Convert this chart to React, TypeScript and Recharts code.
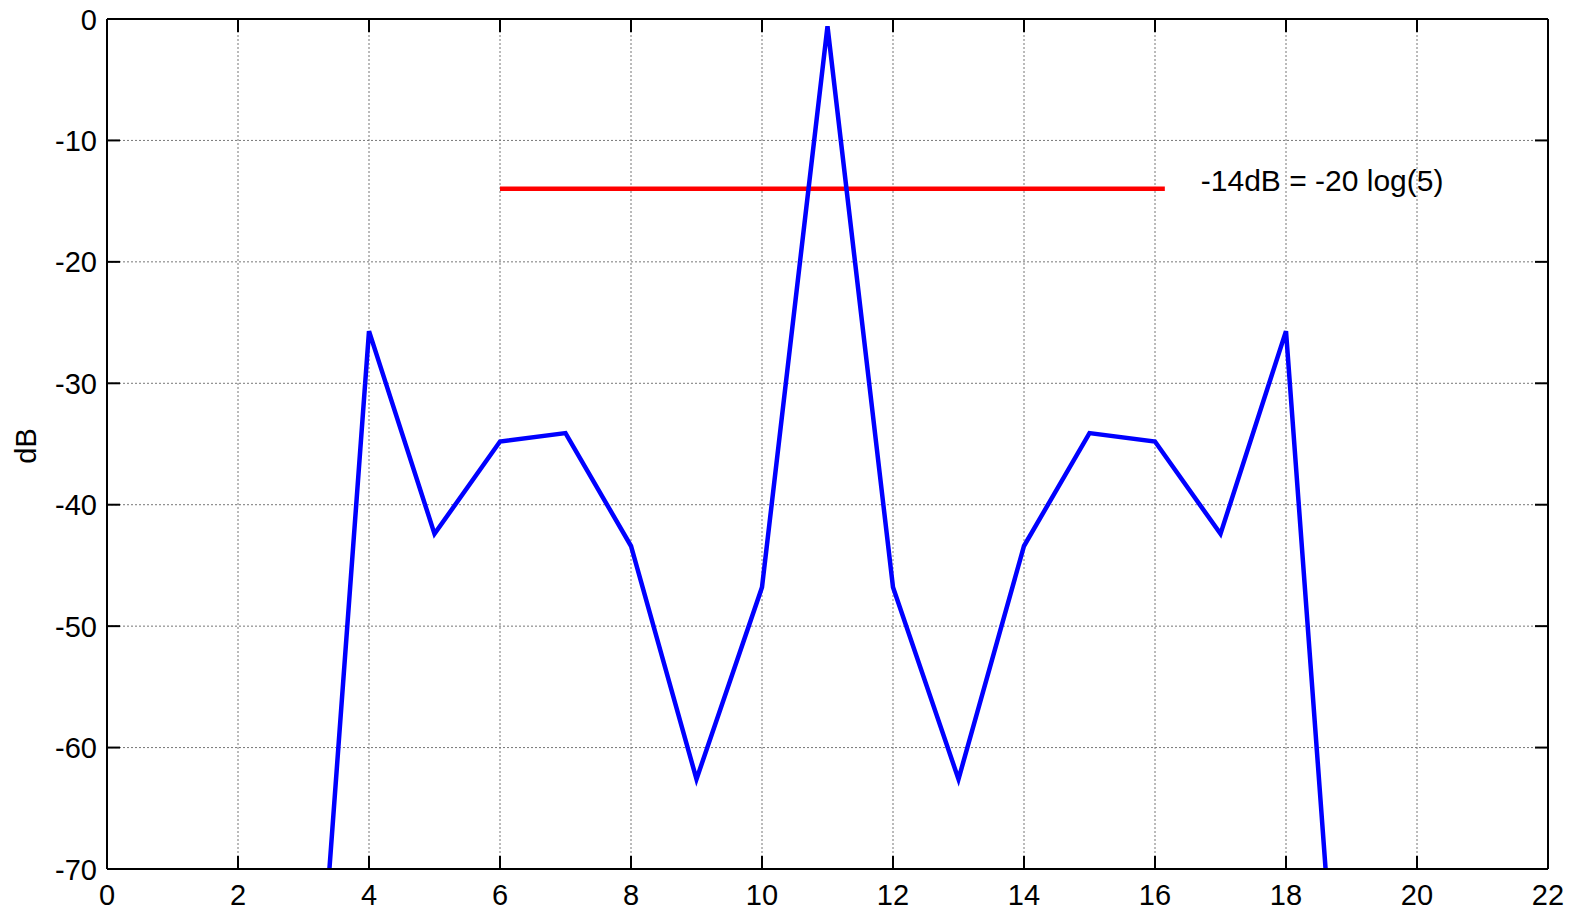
import React from 'react';
import {
  LineChart,
  Line,
  XAxis,
  YAxis,
  CartesianGrid,
  ReferenceLine,
  Label,
} from 'recharts';

// frequency bins and magnitude response (dB)
const bins = [3, 4, 5, 6, 7, 8, 9, 10, 11, 12, 13, 14, 15, 16, 17, 18, 19];
const magnitudeDb = [
  -99, -25.7, -42.4, -34.8, -34.1, -43.4, -62.6, -46.8, -0.6,
  -46.8, -62.6, -43.4, -34.1, -34.8, -42.4, -25.7, -99,
];

const xTicks = [0, 2, 4, 6, 8, 10, 12, 14, 16, 18, 20, 22];
const yTicks = [-70, -60, -50, -40, -30, -20, -10, 0];

// -20 log(5) reference level and its span
const refLevelDb = -13.98;
const refStart = 6;
const refEnd = 16.15;
const refLabel = '-14dB = -20 log(5)';

const data = bins.map((x, i) => ({ x, db: magnitudeDb[i] }));

const FONT = '"Liberation Sans", Arial, Helvetica, sans-serif';
const TICK_LEN = 13;

const BottomTick = (props: any) => {
  const { x, y, payload } = props;
  return (
    <g>
      <line x1={x} y1={y} x2={x} y2={y - TICK_LEN} stroke="#000" strokeWidth={2} />
      <text x={x} y={y + 36} textAnchor="middle" fontSize={29} fontFamily={FONT} fill="#000">
        {payload.value}
      </text>
    </g>
  );
};

const TopTick = (props: any) => {
  const { x, y } = props;
  return <line x1={x} y1={y} x2={x} y2={y + TICK_LEN} stroke="#000" strokeWidth={2} />;
};

const LeftTick = (props: any) => {
  const { x, y, payload } = props;
  return (
    <g>
      <line x1={x} y1={y} x2={x + TICK_LEN} y2={y} stroke="#000" strokeWidth={2} />
      <text x={x - 10} y={y + 10.5} textAnchor="end" fontSize={29} fontFamily={FONT} fill="#000">
        {payload.value}
      </text>
    </g>
  );
};

const RightTick = (props: any) => {
  const { x, y } = props;
  return <line x1={x} y1={y} x2={x - TICK_LEN} y2={y} stroke="#000" strokeWidth={2} />;
};

const axisLine = { stroke: '#000', strokeWidth: 2 };

export default function App() {
  return (
    <div style={{ position: 'absolute', left: 0, top: 0, background: '#fff' }}>
      <LineChart width={1575} height={912} data={data} margin={{ top: 0, right: 0, bottom: 0, left: 0 }}>
        <CartesianGrid stroke="#777" strokeDasharray="2 2" strokeWidth={1} />
        <XAxis
          dataKey="x"
          type="number"
          domain={[0, 22]}
          allowDataOverflow
          ticks={xTicks}
          interval={0}
          height={43}
          tickSize={0}
          tickMargin={0}
          tickLine={false}
          axisLine={axisLine}
          tick={<BottomTick />}
        />
        <XAxis
          xAxisId="top"
          dataKey="x"
          orientation="top"
          type="number"
          domain={[0, 22]}
          allowDataOverflow
          ticks={xTicks}
          interval={0}
          height={19}
          tickSize={0}
          tickMargin={0}
          tickLine={false}
          axisLine={axisLine}
          tick={<TopTick />}
        />
        <YAxis
          type="number"
          domain={[-70, 0]}
          ticks={yTicks}
          interval={0}
          allowDataOverflow
          width={107}
          tickSize={0}
          tickMargin={0}
          tickLine={false}
          axisLine={axisLine}
          tick={<LeftTick />}
        >
          <Label
            content={() => (
              <text
                x={26}
                y={446}
                transform="rotate(-90 26 446)"
                textAnchor="middle"
                dominantBaseline="central"
                fontSize={29}
                fontFamily={FONT}
                fill="#000"
              >
                dB
              </text>
            )}
          />
        </YAxis>
        <YAxis
          yAxisId="right"
          dataKey="db"
          orientation="right"
          type="number"
          domain={[-70, 0]}
          allowDataOverflow
          ticks={yTicks}
          interval={0}
          width={27}
          tickSize={0}
          tickMargin={0}
          tickLine={false}
          axisLine={axisLine}
          tick={<RightTick />}
        />
        <ReferenceLine
          segment={[
            { x: refStart, y: refLevelDb },
            { x: refEnd, y: refLevelDb },
          ]}
          stroke="#ff0000"
          strokeWidth={4.5}
          ifOverflow="visible"
          label={{
            value: refLabel,
            position: 'right',
            offset: 36,
            dy: -8,
            fontSize: 30,
            fontFamily: FONT,
            fill: '#000',
          }}
        />
        <Line
          type="linear"
          dataKey="db"
          stroke="#0000ff"
          strokeWidth={4.5}
          dot={false}
          activeDot={false}
          isAnimationActive={false}
        />
      </LineChart>
    </div>
  );
}
